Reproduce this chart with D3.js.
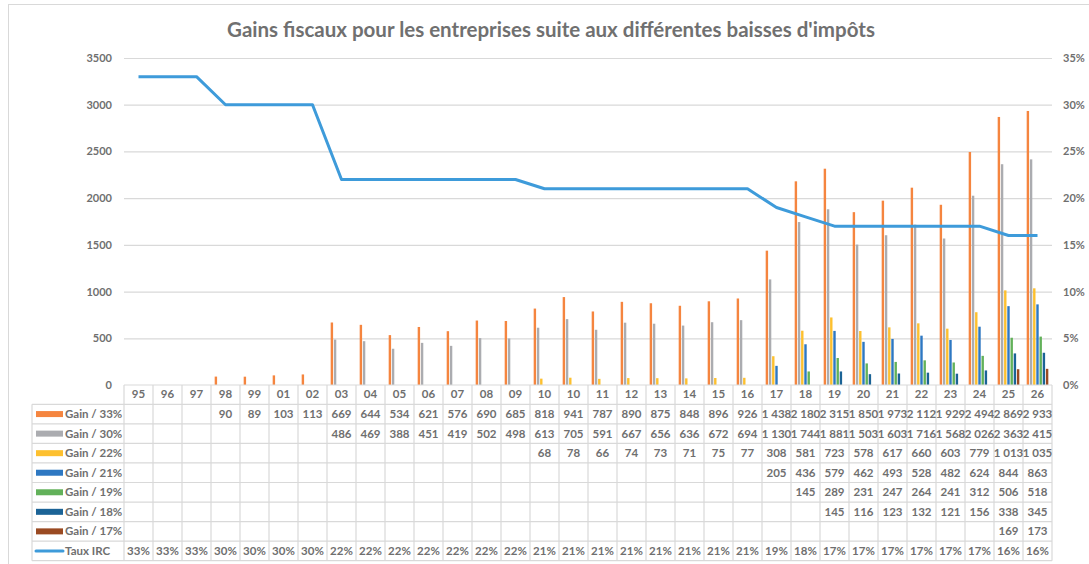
<!DOCTYPE html>
<html>
<head>
<meta charset="utf-8">
<script src="https://cdn.jsdelivr.net/npm/d3@7"></script>
<style>
  html, body { margin: 0; padding: 0; background: #fff; }
  svg { display: block; font-family: Lato, "Open Sans", sans-serif; }
</style>
</head>
<body>
<svg id="chart" width="1089" height="564"></svg>
<script>
// Fiscal years (two "10" columns in the source table)
const years = ["95","96","97","98","99","01","02","03","04","05","06","07","08","09","10","10","11","12","13","14","15","16","17","18","19","20","21","22","23","24","25","26"];

// Gains by corporate tax rate (null = no value for that year)
const gain33 = [null,null,null,90,89,103,113,669,644,534,621,576,690,685,818,941,787,890,875,848,896,926,1438,2180,2315,1850,1973,2112,1929,2494,2869,2933];
const gain30 = [null,null,null,null,null,null,null,486,469,388,451,419,502,498,613,705,591,667,656,636,672,694,1130,1744,1881,1503,1603,1716,1568,2026,2363,2415];
const gain22 = [null,null,null,null,null,null,null,null,null,null,null,null,null,null,68,78,66,74,73,71,75,77,308,581,723,578,617,660,603,779,1013,1035];
const gain21 = [null,null,null,null,null,null,null,null,null,null,null,null,null,null,null,null,null,null,null,null,null,null,205,436,579,462,493,528,482,624,844,863];
const gain19 = [null,null,null,null,null,null,null,null,null,null,null,null,null,null,null,null,null,null,null,null,null,null,null,145,289,231,247,264,241,312,506,518];
const gain18 = [null,null,null,null,null,null,null,null,null,null,null,null,null,null,null,null,null,null,null,null,null,null,null,null,145,116,123,132,121,156,338,345];
const gain17 = [null,null,null,null,null,null,null,null,null,null,null,null,null,null,null,null,null,null,null,null,null,null,null,null,null,null,null,null,null,null,169,173];

// Corporate income tax rate (Taux IRC)
const tauxIRC = [0.33,0.33,0.33,0.30,0.30,0.30,0.30,0.22,0.22,0.22,0.22,0.22,0.22,0.22,0.21,0.21,0.21,0.21,0.21,0.21,0.21,0.21,0.19,0.18,0.17,0.17,0.17,0.17,0.17,0.17,0.16,0.16];

const seriesNames = ["Gain / 33%","Gain / 30%","Gain / 22%","Gain / 21%","Gain / 19%","Gain / 18%","Gain / 17%"];
const seriesValues = [gain33, gain30, gain22, gain21, gain19, gain18, gain17];
const lineName = "Taux IRC";

const leftTicks = [0,500,1000,1500,2000,2500,3000,3500];
const rightTicks = [0,0.05,0.10,0.15,0.20,0.25,0.30,0.35];

const title = "Gains fiscaux pour les entreprises suite aux différentes baisses d'impôts";

// ---- styling ----
const colors = ["#F5853F","#ABACB0","#FDC02F","#2E78C2","#62B15A","#1B6396","#9A4A22"];
const lineColor = "#3E9BDA";
const textColor = "#6f6f6f";
const gridColor = "#D9D9D9";

const svg = d3.select("#chart");
const plot = { left: 124, right: 1052, top: 58, bottom: 385 };
const table = { left: 32, top: 404.3, rowH: 19.55 };

const fr = d3.formatLocale({ decimal: ",", thousands: "\u00a0", grouping: [3], currency: ["", " €"] });
const fmtNum = fr.format(",d");
const fmtPct = d3.format(".0%");

const x = d3.scaleBand().domain(d3.range(years.length)).range([plot.left, plot.right]);
const xs = d3.scaleBand().domain(d3.range(seriesNames.length)).range([0, x.bandwidth()])
  .paddingInner(0.25).paddingOuter(1.15);
const y = d3.scaleLinear().domain([0, 3500]).range([plot.bottom, plot.top]);
const yR = d3.scaleLinear().domain([0, 0.35]).range([plot.bottom, plot.top]);

// chart frame
svg.append("rect").attr("x", 8.5).attr("y", 4.5).attr("width", 1200).attr("height", 700)
  .attr("fill", "none").attr("stroke", gridColor).attr("stroke-width", 1);

// title
svg.append("text").attr("x", 551).attr("y", 37).attr("text-anchor", "middle")
  .attr("font-size", 20.5).attr("font-weight", "bold").attr("fill", "#707070").text(title);

// gridlines
svg.append("g").attr("transform", `translate(${plot.left},0)`)
  .call(d3.axisLeft(y).tickValues(leftTicks.slice(1)).tickSize(-(plot.right - plot.left)).tickFormat(""))
  .call(g => g.select(".domain").remove())
  .call(g => g.selectAll("line").attr("stroke", gridColor).attr("stroke-width", 1.2));

// left axis labels
svg.append("g").attr("transform", `translate(${plot.left},0)`)
  .call(d3.axisLeft(y).tickValues(leftTicks).tickSize(0).tickPadding(12).tickFormat(d3.format("d")))
  .call(g => g.select(".domain").remove())
  .call(g => g.selectAll("text").attr("fill", textColor).attr("font-size", 11).attr("font-weight", "bold")
    .attr("font-family", "Lato, sans-serif"));

// right axis labels
svg.append("g").attr("transform", `translate(${plot.right},0)`)
  .call(d3.axisRight(yR).tickValues(rightTicks).tickSize(0).tickPadding(11).tickFormat(fmtPct))
  .call(g => g.select(".domain").remove())
  .call(g => g.selectAll("text").attr("fill", textColor).attr("font-size", 11).attr("font-weight", "bold")
    .attr("font-family", "Lato, sans-serif"));

// bars
const barData = [];
seriesValues.forEach((vals, s) => vals.forEach((v, i) => { if (v != null) barData.push({ s, i, v }); }));
svg.append("g").selectAll("rect").data(barData).join("rect")
  .attr("x", d => x(d.i) + xs(d.s))
  .attr("width", xs.bandwidth())
  .attr("y", d => y(d.v))
  .attr("height", d => y(0) - y(d.v))
  .attr("fill", d => colors[d.s]);

// rate line
const line = d3.line().x((d, i) => x(i) + x.bandwidth() / 2).y(d => yR(d));
svg.append("path").datum(tauxIRC).attr("d", line)
  .attr("fill", "none").attr("stroke", lineColor).attr("stroke-width", 3)
  .attr("stroke-linejoin", "round");

// ---- data table ----
const nRows = seriesNames.length + 1;
const tableBottom = table.top + nRows * table.rowH;
const grid = svg.append("g").attr("stroke", gridColor).attr("stroke-width", 1.2);

// horizontal lines: axis line + row borders
grid.append("line").attr("x1", plot.left).attr("x2", plot.right).attr("y1", plot.bottom).attr("y2", plot.bottom);
d3.range(nRows + 1).forEach(r => {
  const yy = table.top + r * table.rowH;
  grid.append("line").attr("x1", table.left).attr("x2", plot.right).attr("y1", yy).attr("y2", yy);
});
// vertical lines
x.domain().concat([years.length]).forEach(i => {
  const xx = i < years.length ? x(i) : plot.right;
  grid.append("line").attr("x1", xx).attr("x2", xx).attr("y1", plot.bottom).attr("y2", tableBottom);
});
grid.append("line").attr("x1", table.left).attr("x2", table.left).attr("y1", table.top).attr("y2", tableBottom);

// year header row
svg.append("g").attr("transform", `translate(0,${plot.bottom})`)
  .call(d3.axisBottom(x).tickSize(0).tickPadding(5).tickFormat(i => years[i]))
  .call(g => g.select(".domain").remove())
  .call(g => g.selectAll("text").attr("fill", textColor).attr("font-size", 11.5).attr("font-weight", "bold")
    .attr("font-family", "Lato, sans-serif"));

const rowCenter = r => table.top + (r + 0.5) * table.rowH;
const txt = svg.append("g").attr("fill", textColor).attr("font-size", 11.5).attr("font-weight", "bold");

// legend column
seriesNames.forEach((name, s) => {
  svg.append("rect").attr("x", 36).attr("y", rowCenter(s) - 3).attr("width", 27).attr("height", 6).attr("fill", colors[s]);
  txt.append("text").attr("x", 65).attr("y", rowCenter(s)).attr("dy", "0.35em").text(name);
});
svg.append("line").attr("x1", 36).attr("x2", 63).attr("y1", rowCenter(7)).attr("y2", rowCenter(7))
  .attr("stroke", lineColor).attr("stroke-width", 3).attr("stroke-linecap", "round");
txt.append("text").attr("x", 65).attr("y", rowCenter(7)).attr("dy", "0.35em").text(lineName);

// table values
seriesValues.forEach((vals, s) => {
  vals.forEach((v, i) => {
    if (v == null) return;
    txt.append("text").attr("x", x(i) + x.bandwidth() / 2).attr("y", rowCenter(s)).attr("dy", "0.35em")
      .attr("text-anchor", "middle").text(fmtNum(v));
  });
});
tauxIRC.forEach((v, i) => {
  txt.append("text").attr("x", x(i) + x.bandwidth() / 2).attr("y", rowCenter(7)).attr("dy", "0.35em")
    .attr("text-anchor", "middle").text(fmtPct(v));
});
</script>
</body>
</html>
